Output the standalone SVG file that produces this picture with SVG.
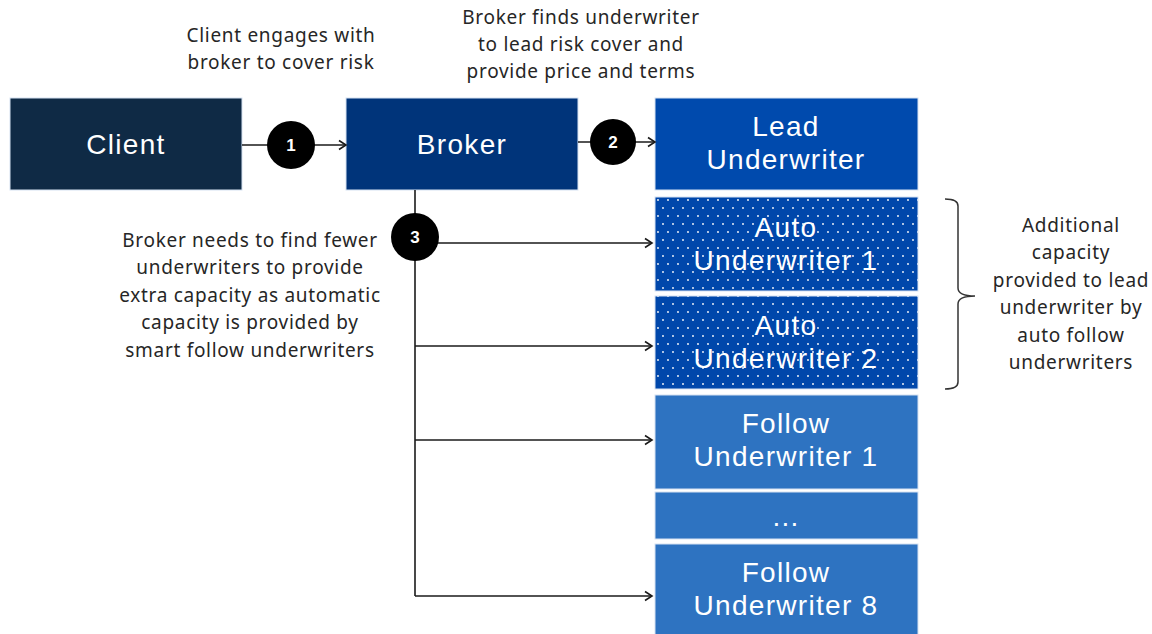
<svg xmlns="http://www.w3.org/2000/svg" width="1152" height="634" viewBox="0 0 1152 634">
<style>
.note{font-family:"Noto Sans","Open Sans",sans-serif;font-size:19px;letter-spacing:0.7px;fill:#262626;text-anchor:middle}
.lbl{font-family:"Liberation Sans",Arial,sans-serif;font-size:28px;letter-spacing:1.3px;fill:#ffffff;text-anchor:middle}
.num{font-family:"Liberation Sans",Arial,sans-serif;font-size:17px;font-weight:bold;fill:#ffffff;text-anchor:middle}
.box{stroke:#d6e2f2;stroke-width:1}
.con{fill:none;stroke:#1a1a1a;stroke-width:1.6}
</style>
<defs>
<marker id="arr" markerWidth="12" markerHeight="12" refX="10" refY="6" orient="auto" markerUnits="userSpaceOnUse">
<path d="M3,1.5 L10,6 L3,10.5" fill="none" stroke="#1a1a1a" stroke-width="1.6"/>
</marker>
<pattern id="dots" width="10" height="16" patternUnits="userSpaceOnUse" x="656" y="197">
<rect width="10" height="16" fill="#0047ab"/>
<circle cx="2" cy="3" r="0.9" fill="#ffffff"/>
<circle cx="7" cy="11" r="0.9" fill="#ffffff"/>
</pattern>
</defs>
<rect width="1152" height="634" fill="#ffffff"/>

<text class="note"><tspan x="281" y="42">Client engages with</tspan><tspan x="281" y="69">broker to cover risk</tspan></text>
<text class="note"><tspan x="581" y="24">Broker finds underwriter</tspan><tspan x="581" y="51">to lead risk cover and</tspan><tspan x="581" y="78">provide price and terms</tspan></text>
<text class="note"><tspan x="250" y="247">Broker needs to find fewer</tspan><tspan x="250" y="274">underwriters to provide</tspan><tspan x="250" y="302">extra capacity as automatic</tspan><tspan x="250" y="329">capacity is provided by</tspan><tspan x="250" y="357">smart follow underwriters</tspan></text>
<text class="note"><tspan x="1071" y="232">Additional</tspan><tspan x="1071" y="259">capacity</tspan><tspan x="1071" y="287">provided to lead</tspan><tspan x="1071" y="314">underwriter by</tspan><tspan x="1071" y="342">auto follow</tspan><tspan x="1071" y="369">underwriters</tspan></text>

<g id="client"><rect class="box" x="10" y="98" width="232" height="92" fill="#0f2a45"/><text class="lbl" x="126" y="154">Client</text></g>
<g id="broker"><rect class="box" x="346" y="98" width="232" height="92" fill="#00347a"/><text class="lbl" x="462" y="154">Broker</text></g>
<g id="lead"><rect class="box" x="655" y="98" width="263" height="92" fill="#004aad"/><text class="lbl"><tspan x="786" y="136">Lead</tspan><tspan x="786" y="169">Underwriter</tspan></text></g>
<g id="auto1"><rect class="box" x="655" y="197" width="263" height="94" fill="url(#dots)"/><text class="lbl"><tspan x="786" y="237">Auto</tspan><tspan x="786" y="270">Underwriter 1</tspan></text></g>
<g id="auto2"><rect class="box" x="655" y="296" width="263" height="93" fill="url(#dots)"/><text class="lbl"><tspan x="786" y="335">Auto</tspan><tspan x="786" y="368">Underwriter 2</tspan></text></g>
<g id="follow1"><rect class="box" x="655" y="395" width="263" height="94" fill="#2e73c1"/><text class="lbl"><tspan x="786" y="433">Follow</tspan><tspan x="786" y="466">Underwriter 1</tspan></text></g>
<g id="dots-row"><rect class="box" x="655" y="492" width="263" height="47" fill="#2e73c1"/><text class="lbl" x="786" y="526">...</text></g>
<g id="follow8"><rect class="box" x="655" y="544" width="263" height="95" fill="#2e73c1"/><text class="lbl"><tspan x="786" y="582">Follow</tspan><tspan x="786" y="615">Underwriter 8</tspan></text></g>

<g id="connectors">
<path class="con" d="M242,145 H346" marker-end="url(#arr)"/>
<path class="con" d="M578,142 H655" marker-end="url(#arr)"/>
<path class="con" d="M415,190 V596"/>
<path class="con" d="M415,243 H652" marker-end="url(#arr)"/>
<path class="con" d="M415,346 H652" marker-end="url(#arr)"/>
<path class="con" d="M415,440 H652" marker-end="url(#arr)"/>
<path class="con" d="M415,596 H652" marker-end="url(#arr)"/>
<path d="M945,199 Q958,199 958,206 V288 Q958,296 975,296 Q958,296 958,304 V382 Q958,389 945,389" fill="none" stroke="#333333" stroke-width="1.5"/>
</g>

<g id="step1"><circle cx="291" cy="145" r="24" fill="#000000"/><text class="num" x="291" y="151">1</text></g>
<g id="step2"><circle cx="613" cy="142" r="23" fill="#000000"/><text class="num" x="613" y="148">2</text></g>
<g id="step3"><circle cx="415" cy="237" r="24" fill="#000000"/><text class="num" x="415" y="243">3</text></g>
</svg>
